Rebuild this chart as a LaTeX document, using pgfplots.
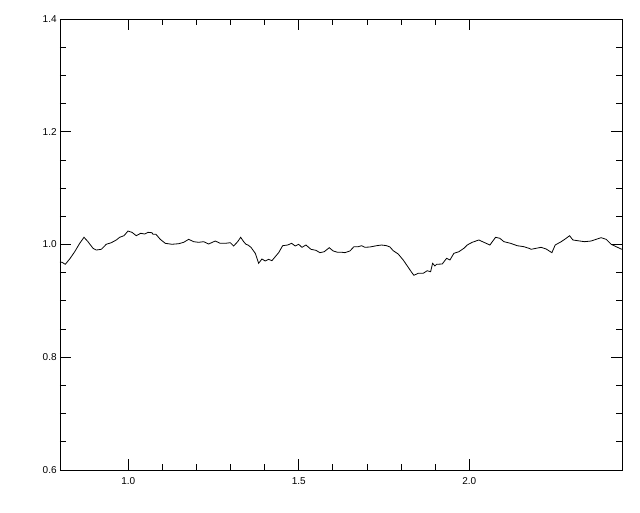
\documentclass[border=0pt]{standalone}
\usepackage{pgfplots}
\pgfplotsset{compat=1.18}
\usepackage{fontspec}
\setmainfont{Liberation Sans}
\begin{document}
\begin{tikzpicture}
\begin{axis}[
  at={(0pt,0pt)}, anchor=south west,
  scale only axis,
  width=421.5pt, height=338.25pt,
  xmin=0.8, xmax=2.448, ymin=0.6, ymax=1.4,
  xtick={1.0,1.5,2.0},
  xticklabels={1.0,1.5,2.0},
  ytick={0.6,0.8,1.0,1.2,1.4},
  yticklabels={0.6,0.8,1.0,1.2,1.4},
  minor x tick num=4,
  minor y tick num=3,
  tick align=inside,
  major tick length=8pt,
  minor tick length=4.5pt,
  axis line style={line width=0.6pt},
  tick style={line width=0.6pt, black},
  ticklabel style={font=\fontsize{7.5}{8}\selectfont},
  x tick label style={yshift=-2pt},
  y tick label style={xshift=1pt},
  /pgf/number format/assume math mode=true,
]
\addplot[black, line width=0.6pt] coordinates {
(0.8000,0.9690) (0.8059,0.9684) (0.8155,0.9649) (0.8284,0.9743) (0.8431,0.9872)
(0.8578,1.0021) (0.8704,1.0128) (0.8821,1.0050) (0.8967,0.9933) (0.9064,0.9902)
(0.9211,0.9915) (0.9357,1.0004) (0.9504,1.0032) (0.9651,1.0080) (0.9750,1.0128)
(0.9876,1.0156) (0.9994,1.0239) (1.0111,1.0216) (1.0237,1.0156) (1.0366,1.0199)
(1.0483,1.0186) (1.0580,1.0216) (1.0697,1.0209) (1.0726,1.0181) (1.0814,1.0181)
(1.0940,1.0092) (1.1087,1.0021) (1.1283,1.0004) (1.1480,1.0014) (1.1627,1.0039)
(1.1773,1.0092) (1.1920,1.0050) (1.2066,1.0039) (1.2213,1.0050) (1.2359,1.0009)
(1.2553,1.0062) (1.2700,1.0021) (1.2846,1.0021) (1.2993,1.0032) (1.3092,0.9973)
(1.3210,1.0050) (1.3298,1.0128) (1.3386,1.0050) (1.3453,1.0004) (1.3512,0.9991)
(1.3600,0.9950) (1.3726,0.9844) (1.3825,0.9667) (1.3922,0.9743) (1.4019,0.9707)
(1.4118,0.9737) (1.4215,0.9713) (1.4312,0.9784) (1.4412,0.9855) (1.4529,0.9979)
(1.4675,0.9991) (1.4793,1.0021) (1.4898,0.9973) (1.4998,1.0004) (1.5095,0.9950)
(1.5212,0.9991) (1.5359,0.9915) (1.5505,0.9897) (1.5622,0.9855) (1.5748,0.9872)
(1.5895,0.9943) (1.6012,0.9885) (1.6141,0.9862) (1.6267,0.9862) (1.6355,0.9855)
(1.6502,0.9885) (1.6619,0.9961) (1.6745,0.9961) (1.6845,0.9979) (1.6942,0.9950)
(1.7088,0.9956) (1.7285,0.9979) (1.7431,0.9991) (1.7578,0.9979) (1.7675,0.9956)
(1.7772,0.9890) (1.7918,0.9831) (1.8065,0.9725) (1.8211,0.9596) (1.8311,0.9507)
(1.8378,0.9454) (1.8504,0.9489) (1.8651,0.9489) (1.8768,0.9535) (1.8868,0.9517)
(1.8926,0.9667) (1.8994,0.9619) (1.9044,0.9649) (1.9208,0.9654) (1.9337,0.9755)
(1.9434,0.9725) (1.9551,0.9844) (1.9697,0.9872) (1.9844,0.9933) (1.9941,0.9991)
(2.0087,1.0039) (2.0284,1.0080) (2.0430,1.0039) (2.0606,0.9991) (2.0773,1.0128)
(2.0899,1.0110) (2.1017,1.0050) (2.1213,1.0021) (2.1407,0.9979) (2.1603,0.9961)
(2.1750,0.9933) (2.1817,0.9915) (2.1964,0.9933) (2.2110,0.9950) (2.2257,0.9920)
(2.2424,0.9855) (2.2521,0.9991) (2.2697,1.0050) (2.2843,1.0110) (2.2943,1.0156)
(2.3040,1.0080) (2.3186,1.0067) (2.3383,1.0050) (2.3576,1.0062) (2.3723,1.0092)
(2.3869,1.0121) (2.4016,1.0092) (2.4162,1.0004) (2.4309,0.9961) (2.4456,0.9920)
(2.4480,0.9915)
};
\end{axis}
\pgfresetboundingbox
\path[use as bounding box] (-45pt,-31.5pt) rectangle (435pt,352.5pt);
\end{tikzpicture}
\end{document}
